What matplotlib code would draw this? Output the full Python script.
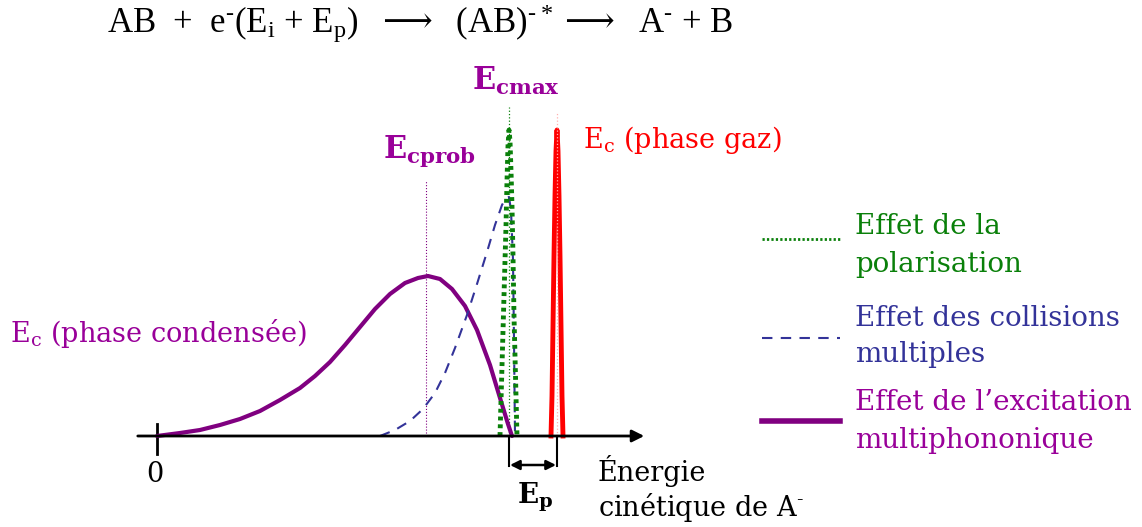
import matplotlib.pyplot as plt
import numpy as np

plt.rcParams['font.family'] = 'DejaVu Serif'
plt.rcParams['mathtext.fontset'] = 'custom'
plt.rcParams['mathtext.rm'] = 'DejaVu Serif'
plt.rcParams['mathtext.bf'] = 'DejaVu Serif:bold'
plt.rcParams['mathtext.it'] = 'DejaVu Serif:italic'

# curves: energy (x) vs intensity (y), origin of the energy axis at 0
phonon_x = [0, 23, 43, 63, 83, 103, 123, 143, 158, 173, 188, 203, 218, 233, 248,
            261, 271, 283, 295, 308, 320, 333, 343, 351, 355]
phonon_y = [0, 3, 6, 11, 17, 25, 36, 48, 60, 74, 91, 109, 127, 142, 153,
            158, 160, 157, 147, 130, 106, 71, 38, 12, 0]

coll_x = [223, 238, 253, 266, 278, 288, 298, 310, 320, 330, 338, 345, 349, 352, 354, 356, 357, 358]
coll_y = [0, 6, 15, 27, 43, 63, 88, 121, 152, 184, 211, 231, 238, 239, 226, 176, 96, 0]

polar_x = [343, 345, 347, 349, 350, 351, 352, 353, 354, 355, 356, 357, 359, 360]
polar_y = [0, 70, 140, 210, 255, 290, 306, 295, 265, 230, 180, 120, 40, 0]

gaz_x = [394, 395, 396, 397, 398, 399, 400, 401, 402, 403, 404, 405, 406]
gaz_y = [0, 40, 110, 180, 240, 285, 306, 285, 240, 180, 110, 40, 0]

e_prob, e_prob_h = 269, 256
e_max, e_max_h = 352, 329
e_gaz, e_gaz_h = 400, 324

green = '#0a800a'
blue = '#333399'
purple = '#800080'
ptext = '#990099'
red = '#ff0000'
hy = '\u2010'
arr = '$\\longrightarrow$'

fig = plt.figure(figsize=(11.42, 5.27), dpi=100)
ax = fig.add_axes([0, 0, 1, 1])
ax.set_xlim(-157, 985)
ax.set_ylim(-91, 436)
ax.axis('off')

# axis
ax.annotate('', xy=(490, 0), xytext=(-22, 0),
            arrowprops=dict(arrowstyle='-|>', color='black', lw=2, mutation_scale=18))
ax.plot([0, 0], [12, -18], color='black', lw=2)
ax.plot([e_max, e_max], [0, -30], color='black', lw=1.5)
ax.plot([e_gaz, e_gaz], [0, -30], color='black', lw=1.5)
ax.annotate('', xy=(e_gaz - 1, -29), xytext=(e_max + 1, -29),
            arrowprops=dict(arrowstyle='<|-|>', color='black', lw=1.8, mutation_scale=14,
                            shrinkA=0, shrinkB=0))

# marker lines
ax.plot([e_prob, e_prob], [0, e_prob_h], color=purple, lw=0.8, ls=':')
ax.plot([e_max, e_max], [0, e_max_h], color=green, lw=0.9, ls=':')

# curves
ax.plot(phonon_x, phonon_y, color=purple, lw=3, solid_capstyle='round', solid_joinstyle='round')
ax.plot(coll_x, coll_y, color=blue, lw=1.5, ls=(0, (5, 4)))
ax.plot(polar_x, polar_y, color=green, lw=3.5, ls=(0, (0.8, 0.8)))
ax.plot(gaz_x, gaz_y, color=red, lw=3.5, solid_joinstyle='round')
ax.plot([e_gaz, e_gaz], [0, e_gaz_h], color='#ffb0b0', lw=0.9, ls=':')

# legend
ax.plot([605, 683], [197, 197], color=green, lw=2, ls=(0, (0.8, 0.8)))
ax.plot([605, 683], [98, 98], color=blue, lw=1.5, ls=(0, (5, 4)))
ax.plot([605, 683], [15, 15], color=purple, lw=4)
fs = 20
ax.text(698, 209, 'Effet de la', color=green, fontsize=fs, va='center')
ax.text(698, 172, 'polarisation', color=green, fontsize=fs, va='center')
ax.text(698, 118, 'Effet des collisions', color=blue, fontsize=fs, va='center')
ax.text(698, 81, 'multiples', color=blue, fontsize=fs, va='center')
ax.text(698, 33, 'Effet de l\u2019excitation', color=ptext, fontsize=fs, va='center')
ax.text(698, -4, 'multiphononique', color=ptext, fontsize=fs, va='center')

# labels
title = ('AB  +  e$\\mathregular{^{' + hy + '}}$(E$\\mathregular{_i}$ + E$\\mathregular{_p}$)'
         '  ' + arr + '  (AB)$\\mathregular{^{' + hy + '*}}$' + arr + '  A$\\mathregular{^{' + hy + '}}$ + B')
ax.text(-50, 412, title, fontsize=25, family='Liberation Serif', ha='left', va='center')
ax.text(315, 355, r'E$_\mathbf{cmax}$', color=ptext, fontsize=22, fontweight='bold', va='center')
ax.text(226, 285, r'E$_\mathbf{cprob}$', color=ptext, fontsize=22, fontweight='bold', va='center')
fl = 19.5
ax.text(426, 296, r'E$_\mathregular{c}$ (phase gaz)', color=red, fontsize=fl, va='center')
ax.text(-147, 102, r'E$_\mathregular{c}$ (phase condensée)', color=ptext, fontsize=fl, va='center')
ax.text(-2, -38, '0', color='black', fontsize=fl, ha='center', va='center')
ax.text(378, -61, r'E$_\mathbf{p}$', color='black', fontsize=20, fontweight='bold', ha='center', va='center')
ax.text(441, -35, 'Énergie', color='black', fontsize=fl, va='center')
ax.text(441, -72, 'cinétique de A$^{' + hy + '}$', color='black', fontsize=fl, va='center')

fig.savefig('out.png', dpi=100)
